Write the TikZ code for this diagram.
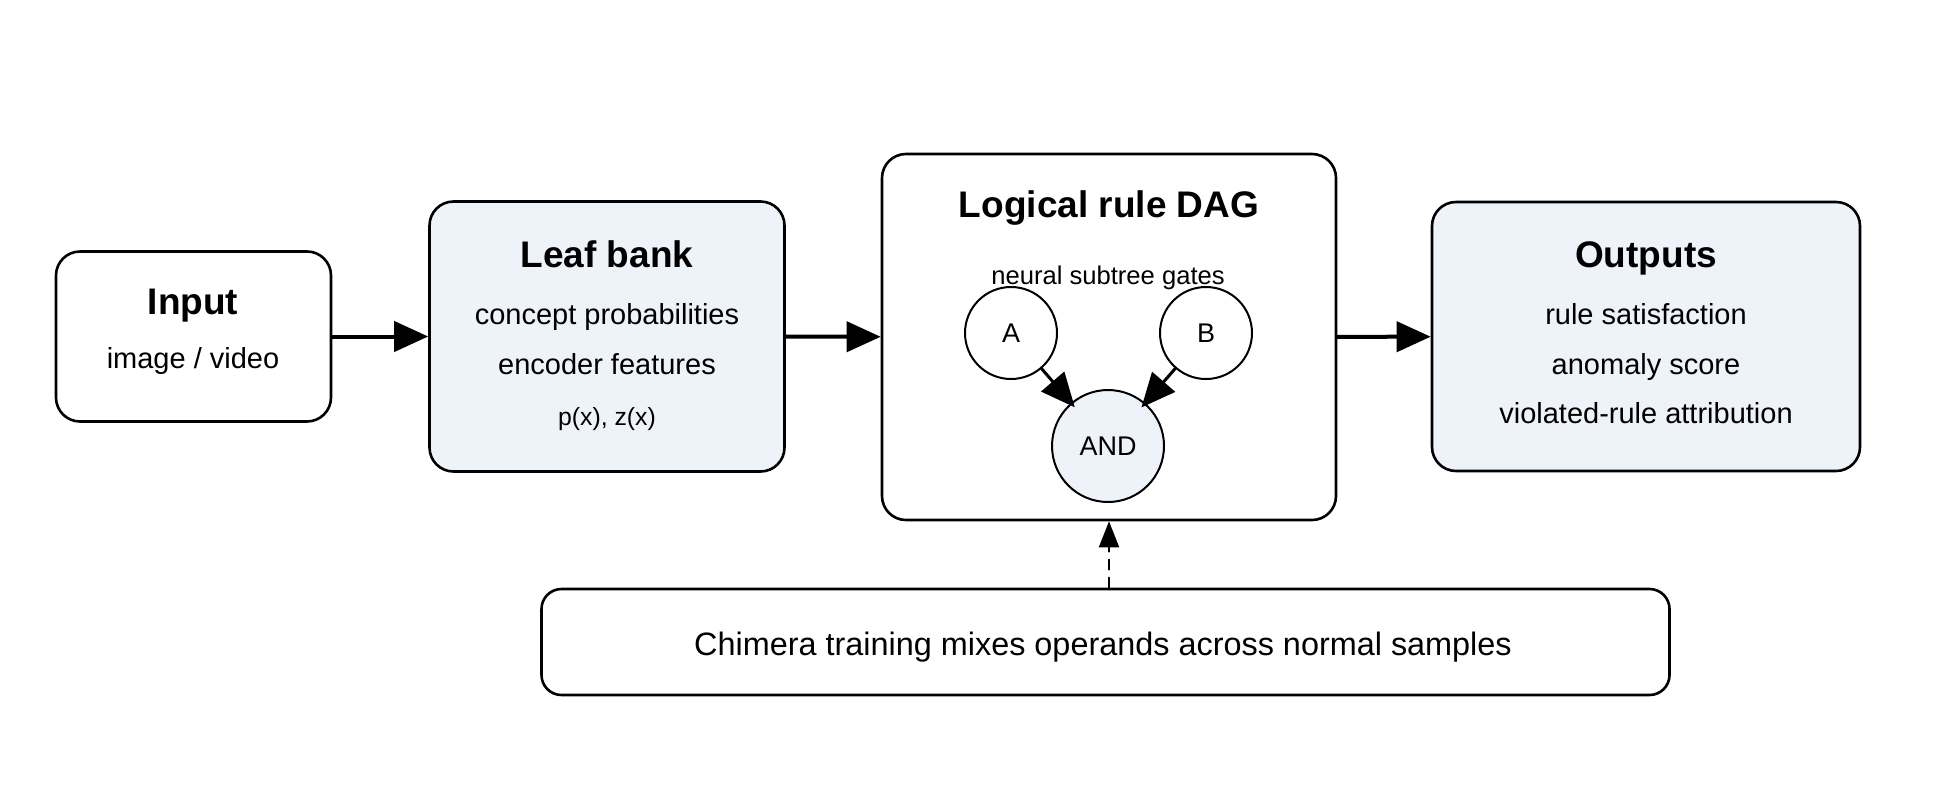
\documentclass[tikz,border=0pt]{standalone}
\usepackage{fontspec}
\setmainfont{Liberation Sans}
\usetikzlibrary{arrows.meta}
\definecolor{boxfill}{RGB}{238,242,249}
\tikzset{
  box/.style={draw, line width=1.3pt, rounded corners=12pt, inner sep=0pt},
  title/.style={font=\fontsize{18.5}{20}\selectfont\bfseries, text height=0.72em, text depth=0.2em, inner sep=0pt},
  body/.style={font=\fontsize{14.5}{16}\selectfont, text height=0.72em, text depth=0.2em, inner sep=0pt},
  gate/.style={draw, circle, line width=1pt, inner sep=0pt, font=\fontsize{13.5}{15}\selectfont},
  flow/.style={line width=2pt, -{Triangle[length=17pt,width=15pt]}},
  gateflow/.style={line width=1.5pt, shorten >=-3pt, -{Triangle[length=17pt,width=15pt]}},
}
\begin{document}
\begin{tikzpicture}[x=0.5pt, y=-0.5pt, line join=round, line cap=round]
	\useasboundingbox (0,0) rectangle (1942,809);
	% boxes
	\node[box, minimum width=137.5pt, minimum height=85pt] (input) at (193.5,336.5) {};
	\node[box, fill=boxfill, minimum width=177.5pt, minimum height=135pt] (leaf) at (607,336.5) {};
	\node[box, minimum width=227pt, minimum height=183pt] (dag) at (1109,337) {};
	\node[box, fill=boxfill, minimum width=214pt, minimum height=134.5pt] (out) at (1646,336.5) {};
	\node[box, rounded corners=10pt, minimum width=564pt, minimum height=53pt] (chim) at (1105.5,642) {};
	% texts
	\node[title] (inputT) at (193,309) {Input};
	\node[body] (inputA) at (193,363) {image / video};
	\node[title] (leafT) at (607,262) {Leaf bank};
	\node[body] (leafA) at (607,319) {concept probabilities};
	\node[body] (leafB) at (607,369) {encoder features};
	\node[body, font=\fontsize{12.4}{14}\selectfont] (leafC) at (607,420) {p(x), z(x)};
	\node[title] (dagT) at (1109,212) {Logical rule DAG};
	\node[body, font=\fontsize{12.8}{14}\selectfont] (dagA) at (1108,279) {neural subtree gates};
	\node[title] (outT) at (1646,262) {Outputs};
	\node[body] (outA) at (1646,319) {rule satisfaction};
	\node[body] (outB) at (1646,369) {anomaly score};
	\node[body] (outC) at (1646,418) {violated-rule attribution};
	\node[body, font=\fontsize{16.2}{18}\selectfont] (chimT) at (1103,650) {Chimera training mixes operands across normal samples};
	% gates
	\node[gate, minimum size=46pt] (a) at (1011,333) {A};
	\node[gate, minimum size=46pt] (b) at (1206,333) {B};
	\node[gate, fill=boxfill, minimum size=56pt] (and) at (1108,446) {AND};
	% connectors
	\draw[flow] (input) -- (leaf);
	\draw[flow] (leaf) -- (dag);
	\draw[flow] (dag) -- (out);
	\draw[gateflow] (a) -- (and);
	\draw[gateflow] (b) -- (and);
	\draw[line width=1pt, dash pattern=on 5pt off 4pt, -{Triangle[length=13pt,width=10pt]}] (chim.north -| dag.south) -- (dag.south);
\end{tikzpicture}
\end{document}
